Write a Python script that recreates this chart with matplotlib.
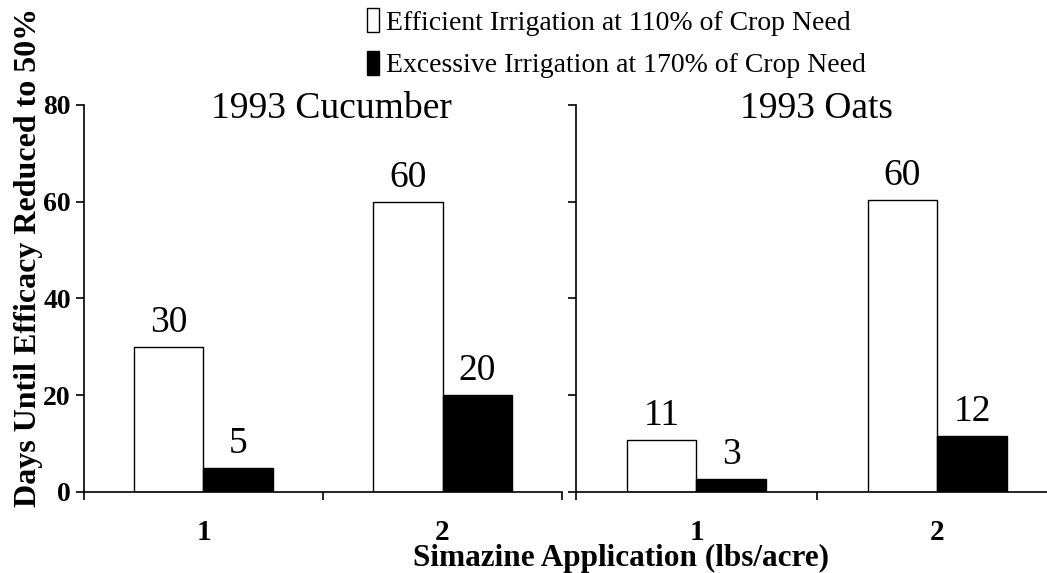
import matplotlib
matplotlib.use('Agg')
import matplotlib.pyplot as plt
from matplotlib.patches import Patch

plt.rcParams['font.family'] = 'Liberation Serif'

# data
crops = ['1993 Cucumber', '1993 Oats']
rates = ['1', '2']
efficient = [[30, 60], [10.7, 60.3]]   # 110% of crop need
excessive = [[5, 20], [2.6, 11.6]]     # 170% of crop need
series_names = ['Efficient Irrigation at 110% of Crop Need',
                'Excessive Irrigation at 170% of Crop Need']
yticks = [0, 20, 40, 60, 80]

fig = plt.figure(figsize=(10.47, 5.73), dpi=100)
ax_left = fig.add_axes([0.0802, 0.1414, 0.4566, 0.6754])
ax_right = fig.add_axes([0.5501, 0.1414, 0.4604, 0.6754])

w = 0.29
title_x = [0.517, 0.5]
for i, ax in enumerate([ax_left, ax_right]):
    xs = range(len(rates))
    b1 = ax.bar([x - w / 2 for x in xs], efficient[i], w, color='white', edgecolor='black', linewidth=1)
    b2 = ax.bar([x + w / 2 for x in xs], excessive[i], w, color='black', edgecolor='black', linewidth=1)
    for bars in (b1, b2):
        for bar in bars:
            h = bar.get_height()
            ax.annotate(f'{round(h)}', xy=(bar.get_x() + bar.get_width() / 2, h),
                        xytext=(0, 5), textcoords='offset points',
                        ha='center', va='bottom', fontsize=27)
    ax.set_xlim(-0.5, 1.5)
    ax.set_ylim(0, 80)
    ax.set_yticks(yticks)
    ax.set_xticks([-0.5, 0.5, 1.5])
    ax.set_xticklabels([])
    ax.tick_params(direction='out', length=6, width=1.2)
    for x, lab in zip(xs, rates):
        ax.text(x, -0.07, lab, transform=ax.get_xaxis_transform(), ha='center', va='top',
                fontsize=21, fontweight='bold')
    for s in ['top', 'right']:
        ax.spines[s].set_visible(False)
    for s in ['left', 'bottom']:
        ax.spines[s].set_linewidth(1.2)
    ax.text(title_x[i], 0.945, crops[i], transform=ax.transAxes, ha='center', va='bottom', fontsize=27)

ax_left.set_yticklabels([str(t) for t in yticks], fontsize=20, fontweight='bold')
ax_right.set_yticklabels([])

fig.text(0.027, 0.55, 'Days Until Efficacy Reduced to 50%', rotation=90, ha='center', va='center',
         fontsize=23, fontweight='bold')
fig.text(0.5935, 0.025, 'Simazine Application (lbs/acre)', ha='center', va='center',
         fontsize=22.5, fontweight='bold')

handles = [Patch(facecolor='white', edgecolor='black'), Patch(facecolor='black', edgecolor='black')]
fig.legend(handles, series_names, loc='upper left', bbox_to_anchor=(0.3505, 0.986), frameon=False,
           fontsize=20, handlelength=0.45, handleheight=0.95, handletextpad=0.22, labelspacing=0.55,
           borderaxespad=0, borderpad=0)

fig.savefig('out.png', dpi=100)
